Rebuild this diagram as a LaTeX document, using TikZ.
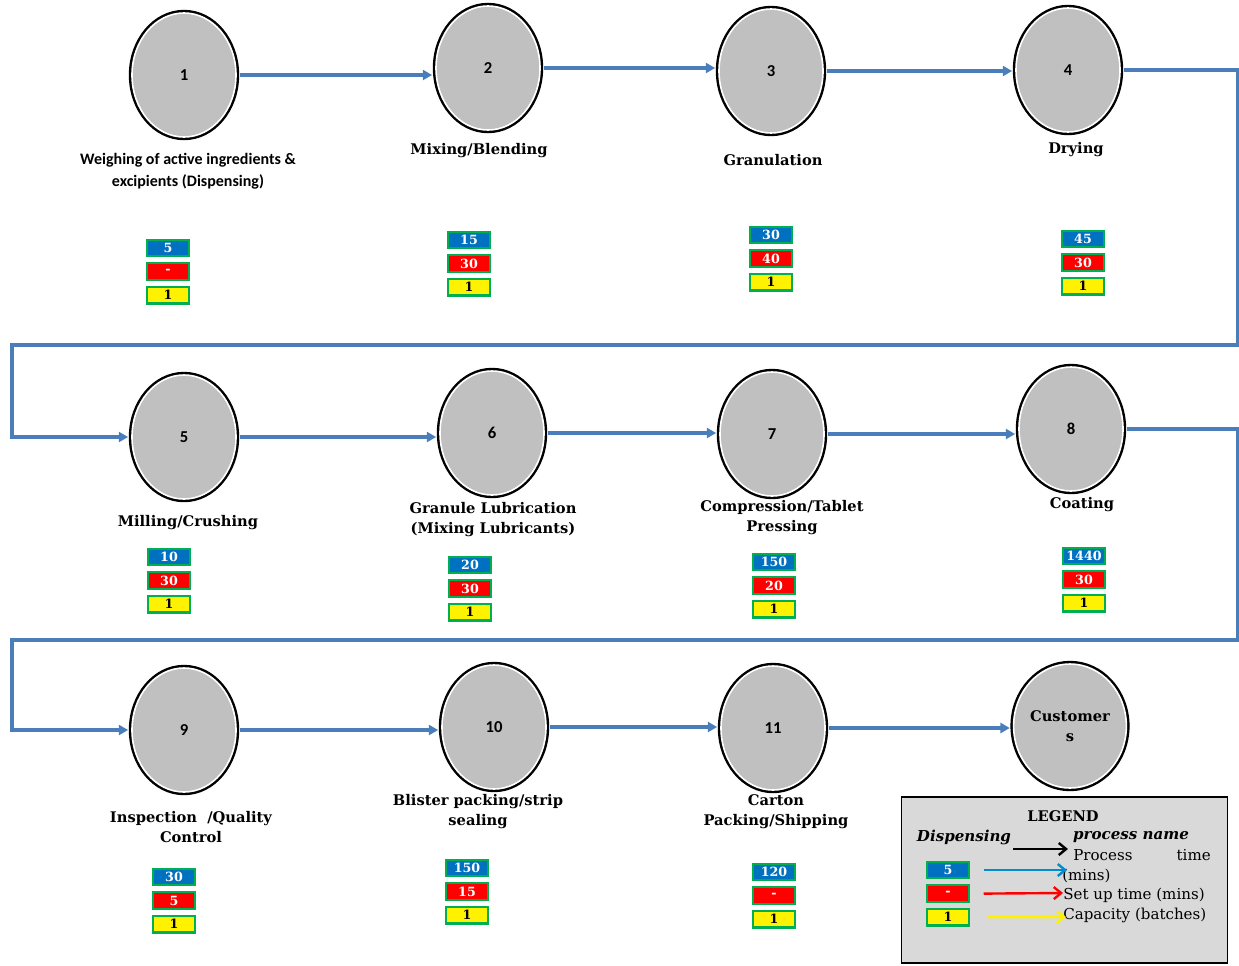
\documentclass[tikz,border=0pt]{standalone}
\usepackage{fontspec}
\setmainfont{DejaVu Serif}
\newfontfamily\calibri{Carlito}
\usetikzlibrary{positioning,shapes.geometric,arrows.meta}
\definecolor{stationgray}{HTML}{C0C0C0}
\definecolor{flowblue}{HTML}{4A7EBB}
\definecolor{ptblue}{HTML}{0070C0}
\definecolor{boxgreen}{HTML}{00B050}
\definecolor{legendgray}{HTML}{D9D9D9}
\begin{document}
\begin{tikzpicture}[
  x=0.75pt, y=-0.75pt,
  station/.style={
    ellipse,
    minimum width=78pt,
    minimum height=93pt,
    inner sep=0pt,
    fill=stationgray,
    draw=white,
    line width=1.2pt,
    preaction={draw=black, line width=4.8pt},
    font=\calibri\bfseries\fontsize{12.5}{14}\selectfont
  },
  step_label/.style={
    align=center,
    font=\bfseries\fontsize{11}{15}\selectfont
  },
  flow/.style={
    draw=flowblue,
    line width=2.7pt,
    shorten <=2.3pt,
    shorten >=2.3pt,
    -{Triangle[length=7pt,width=7.5pt]}
  },
  tbox/.style={
    draw=boxgreen,
    line width=1.6pt,
    minimum width=32pt,
    minimum height=12.5pt,
    inner sep=0pt,
    font=\bfseries\fontsize{9.5}{9.5}\selectfont
  },
  ptime/.style={tbox, fill=ptblue, text=white},
  setup/.style={tbox, fill=red, text=white},
  batch/.style={tbox, fill=yellow, text=black},
  legend_box/.style={
    draw=black,
    line width=0.9pt,
    fill=legendgray,
    minimum width=245pt,
    minimum height=124.5pt
  },
  legend_text/.style={
    inner sep=0pt,
    font=\fontsize{11.3}{13}\selectfont
  },
  key/.style={
    line width=1.8pt,
    -{Straight Barb[length=5.5pt,width=9pt]}
  }
]%
\useasboundingbox (0,0) rectangle (1239,965);

% stations
\node [station] (c1) at (184,75) {1};
\node [station] (c2) at (488,68) {2};
\node [station] (c3) at (771,71) {3};
\node [station] (c4) at (1068,70) {4};
\node [station] (c5) at (184,437) {5};
\node [station] (c6) at (492,433) {6};
\node [station] (c7) at (772,434) {7};
\node [station] (c8) at (1071,429) {8};
\node [station] (c9) at (184,730) {9};
\node [station] (c10) at (494,727) {10};
\node [station] (c11) at (773,728) {11};
\node [station, font=\bfseries\fontsize{11}{15}\selectfont, align=center] (cust) at (1070,726) {Customer\\s};

% process names
\node [step_label, font=\calibri\bfseries\fontsize{12}{16.5}\selectfont] (lab1) at (188,171)
  {Weighing of active ingredients \&\\excipients (Dispensing)};
\node [step_label] (lab2) at (479,151) {Mixing/Blending};
\node [step_label] (lab3) at (773,160) {Granulation};
\node [step_label] (lab4) at (1076,150) {Drying};
\node [step_label] (lab5) at (188,523) {Milling/Crushing};
\node [step_label] (lab6) at (493,520) {Granule Lubrication\\(Mixing Lubricants)};
\node [step_label] (lab7) at (782,518) {Compression/Tablet\\Pressing};
\node [step_label] (lab8) at (1082,505) {Coating};
\node [step_label] (lab9) at (191,827) {Inspection\ \ /Quality\\Control};
\node [step_label] (lab10) at (478,812) {Blister packing/strip\\sealing};
\node [step_label] (lab11) at (776,812) {Carton\\Packing/Shipping};

% time boxes
\foreach \n/\x/\y/\ptm/\stp in {1/168/248/5/-, 2/469/240/15/30, 3/771/235/30/40,
    4/1083/239/45/30, 5/169/557/10/30, 6/470/565/20/30, 7/774/562/150/20,
    8/1084/556/1440/30, 9/174/877/30/5, 10/467/868/150/15, 11/774/872/120/-}{
  \node [ptime] (pt\n) at (\x,\y) {\ptm};
  \node [setup, below=3.6pt of pt\n] (su\n) {\stp};
  \node [batch, below=3.6pt of su\n] (ba\n) {1};
}

% flow
\coordinate (turn1) at (1238,345);
\coordinate (turn2) at (12,345);
\coordinate (turn3) at (1238,640);
\coordinate (turn4) at (12,640);
\draw [flow] (c1.east) -- (c1.east -| c2.west);
\draw [flow] (c2.east) -- (c2.east -| c3.west);
\draw [flow] (c3.east) -- (c3.east -| c4.west);
\draw [flow] (c4.east) -- (c4.east -| turn1) -- (turn1) -- (turn2) |- (c5.west);
\draw [flow] (c5.east) -- (c5.east -| c6.west);
\draw [flow] (c6.east) -- (c6.east -| c7.west);
\draw [flow] (c7.east) -- (c7.east -| c8.west);
\draw [flow] (c8.east) -- (c8.east -| turn3) -- (turn3) -- (turn4) |- (c9.west);
\draw [flow] (c9.east) -- (c9.east -| c10.west);
\draw [flow] (c10.east) -- (c10.east -| c11.west);
\draw [flow] (c11.east) -- (c11.east -| cust.west);

% legend
\node [legend_box] (legend) at (1064.5,880) {};
\node [legend_text, font=\bfseries\fontsize{11}{13}\selectfont] (lg_title) at (1063,816) {LEGEND};
\node [legend_text, font=\bfseries\itshape\fontsize{11.3}{13}\selectfont] (lg_disp) at (964,837) {Dispensing};
\node [legend_text, font=\bfseries\itshape\fontsize{11.3}{13}\selectfont] (lg_name) at (1131,837) {process name};
\node [legend_text, anchor=west] (lg_proc) at (1073,855) {Process};
\node [legend_text, anchor=east] (lg_time) at (1211,855) {time};
\node [legend_text, anchor=west] (lg_mins) at (1062,876) {(mins)};
\node [legend_text, anchor=west] (lg_setup) at (1063,895) {Set up time (mins)};
\node [legend_text, anchor=west] (lg_cap) at (1063,915) {Capacity (batches)};
\node [ptime] (lg_pt) at (948,870) {5};
\node [setup, below=3.6pt of lg_pt] (lg_su) {-};
\node [batch, below=3.6pt of lg_su] (lg_ba) {1};
\coordinate (k0) at (1013,849);
\coordinate (k0e) at (1068,849);
\coordinate (k1) at (1067,870);
\coordinate (k2) at (1063,893);
\coordinate (k3) at (1066,917);
\draw [key, black] (k0) -- (k0e);
\draw [key, ptblue!80!cyan] ([xshift=10pt]lg_pt.east) -- (k1);
\draw [key, red] ([xshift=10pt]lg_su.east) -- (k2);
\draw [key, yellow] ([xshift=13pt]lg_ba.east) -- (k3);
\end{tikzpicture}
\end{document}
